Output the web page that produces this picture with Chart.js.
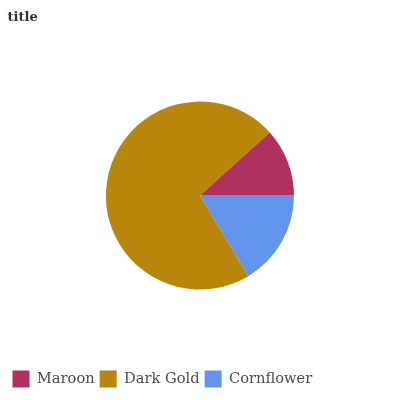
<!DOCTYPE html>
<html>
<head>
<meta charset="utf-8">
<script src="https://cdn.jsdelivr.net/npm/chart.js@4/dist/chart.umd.min.js"></script>
<style>
html,body{margin:0;padding:0;background:#fff;}
#wrap{width:400px;height:400px;position:relative;}
</style>
</head>
<body>
<div id="wrap"><canvas id="c" width="400" height="400"></canvas></div>
<script>
const categories = ["Maroon", "Dark Gold", "Cornflower"];
const values = [11.7, 71.9, 16.4];
const colors = ["#B03060", "#B8860B", "#6495ED"];
const titleText = "title";

// Reference draws counter-clockwise from 3 o'clock; Chart.js draws clockwise,
// so feed reversed order and reverse the legend back.
const rev = a => a.slice().reverse();

new Chart(document.getElementById('c'), {
  type: 'pie',
  data: {
    labels: rev(categories),
    datasets: [{
      data: rev(values),
      backgroundColor: rev(colors),
      borderWidth: 0
    }]
  },
  options: {
    responsive: false,
    animation: false,
    rotation: 90,
    radius: 94,
    layout: { padding: { left: 7.5, right: 7.5, top: 0, bottom: 2.5 } },
    plugins: {
      tooltip: { enabled: false },
      title: {
        display: true,
        text: titleText,
        align: 'start',
        color: '#333333',
        font: { family: 'DejaVu Serif', size: 13, weight: 'bold' },
        padding: { top: 10, bottom: 0 }
      },
      legend: {
        display: true,
        position: 'bottom',
        align: 'start',
        reverse: true,
        labels: {
          boxWidth: 17,
          boxHeight: 17,
          padding: 5,
          color: '#4d4d4d',
          font: { family: 'DejaVu Serif', size: 14.67 }
        }
      }
    }
  }
});
</script>
</body>
</html>
